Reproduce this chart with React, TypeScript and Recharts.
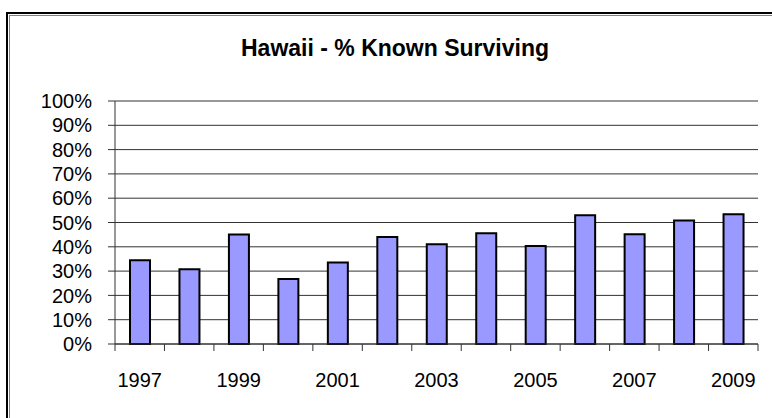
import React from 'react'
import { BarChart, Bar, XAxis, YAxis, CartesianGrid } from 'recharts'

const years = ['1997', '1998', '1999', '2000', '2001', '2002', '2003', '2004', '2005', '2006', '2007', '2008', '2009']
const knownSurviving = [34.5, 30.8, 45.1, 26.7, 33.5, 44, 41, 45.6, 40.3, 53, 45.2, 50.8, 53.4]
const percentTicks = [0, 10, 20, 30, 40, 50, 60, 70, 80, 90, 100]

const data = years.map((year, i) => ({ year, value: knownSurviving[i] }))

// Excel-style axis: ticks between categories, label every other year
function YearTick(props: any) {
  const { x, y, payload, index } = props
  const half = payload && payload.offset ? payload.offset : 24.7
  const last = index === years.length - 1
  return (
    <g>
      <line x1={x - half} x2={x - half} y1={y} y2={y + 7} stroke="#333" />
      {last && <line x1={x + half} x2={x + half} y1={y} y2={y + 7} stroke="#333" />}
      {index % 2 === 0 && (
        <text x={x} y={y + 43} textAnchor="middle" fontSize={20} fill="#000">
          {payload.value}
        </text>
      )}
    </g>
  )
}

const line = (left: number, top: number, width: number, height: number, color: string) => (
  <div style={{ position: 'absolute', left, top, width, height, background: color }} />
)

export default function App() {
  return (
    <div style={{ position: 'fixed', left: 0, top: 0, width: 772, height: 418, overflow: 'hidden', background: '#fff', fontFamily: '"Liberation Sans", Arial, sans-serif' }}>
      {/* chart frame: black outer edge, grey inner edge */}
      {line(6, 12, 766, 2, '#000')}
      {line(6, 12, 2, 406, '#000')}
      {line(9, 15, 763, 1, '#808080')}
      {line(9, 15, 1, 403, '#808080')}
      <div style={{ position: 'absolute', left: 0, top: 37, width: 790, textAlign: 'center', fontSize: 23, lineHeight: '23px', fontWeight: 'bold', color: '#000' }}>
        Hawaii - % Known Surviving
      </div>
      <div style={{ position: 'absolute', left: 0, top: 0 }}>
        <BarChart width={762} height={418} data={data} margin={{ top: 101, right: 4, left: 15, bottom: 0 }} barSize={20}>
          <CartesianGrid vertical={false} stroke="#333" />
          <XAxis
            dataKey="year"
            interval={0}
            height={74}
            tickLine={false}
            tickSize={0}
            tickMargin={0}
            axisLine={{ stroke: '#333' }}
            tick={<YearTick />}
          />
          <YAxis
            width={100}
            domain={[0, 100]}
            ticks={percentTicks}
            interval={0}
            tickFormatter={(v: number) => v + '%'}
            tickSize={7}
            tickMargin={16}
            axisLine={{ stroke: '#333' }}
            tickLine={{ stroke: '#333' }}
            tick={{ fontSize: 20, fill: '#000' }}
          />
          <Bar dataKey="value" fill="#9999ff" stroke="#000" strokeWidth={2} isAnimationActive={false} />
        </BarChart>
      </div>
    </div>
  )
}
